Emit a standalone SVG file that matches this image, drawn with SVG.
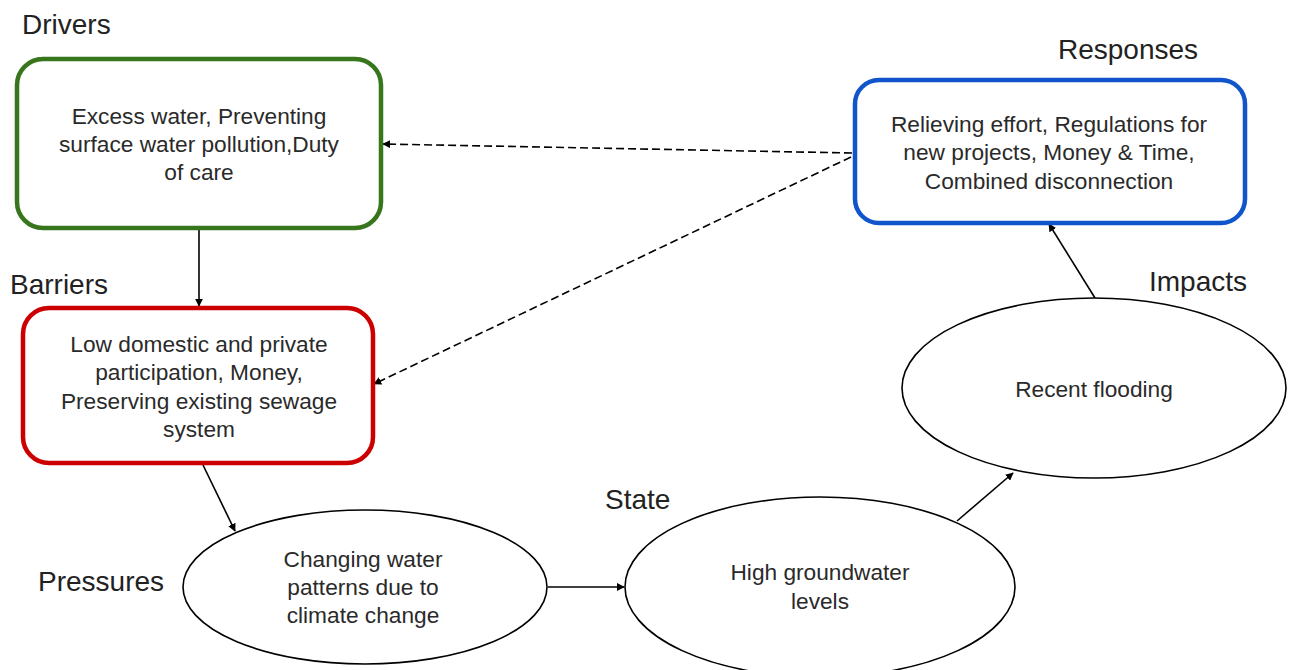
<svg xmlns="http://www.w3.org/2000/svg" width="1290" height="670" viewBox="0 0 1290 670">
  <style>
    .heading { font-family: "Liberation Sans", Arial, sans-serif; font-size: 28px; fill: #222; }
    .body { font-family: "Liberation Sans", Arial, sans-serif; font-size: 22.7px; fill: #2a2a2a; text-anchor: middle; }
    .box { fill: #fff; stroke-width: 4.5; }
    .oval { fill: #fff; stroke: #000; stroke-width: 1.6; }
    .link { fill: none; stroke: #000; stroke-width: 1.6; }
    .dashed { fill: none; stroke: #000; stroke-width: 1.6; stroke-dasharray: 8 4; }
  </style>
  <defs>
    <marker id="arrow" viewBox="0 0 10 10" refX="9" refY="5" markerWidth="8" markerHeight="8" markerUnits="userSpaceOnUse" orient="auto">
      <path d="M0,0 L10,5 L0,10 z" fill="#000"/>
    </marker>
  </defs>

  <rect width="1290" height="670" fill="#fff"/>

  <!-- connectors -->
  <g id="connectors">
    <line class="link" x1="199" y1="230" x2="199" y2="306" marker-end="url(#arrow)"/>
    <line class="link" x1="203" y1="465" x2="235" y2="531" marker-end="url(#arrow)"/>
    <line class="link" x1="548" y1="587" x2="624" y2="587" marker-end="url(#arrow)"/>
    <line class="link" x1="957" y1="521" x2="1013" y2="473" marker-end="url(#arrow)"/>
    <line class="link" x1="1095" y1="298" x2="1049" y2="224" marker-end="url(#arrow)"/>
    <line class="dashed" x1="852" y1="153" x2="383" y2="144" marker-end="url(#arrow)"/>
    <line class="dashed" x1="851" y1="157" x2="374" y2="384" marker-end="url(#arrow)"/>
  </g>

  <!-- Drivers -->
  <g id="drivers">
    <text class="heading" x="22" y="34">Drivers</text>
    <rect class="box" x="17" y="59" width="364" height="169" rx="26" stroke="#38761d"/>
    <text class="body" x="199" y="124">Excess water, Preventing</text>
    <text class="body" x="199" y="152">surface water pollution,Duty</text>
    <text class="body" x="199" y="180">of care</text>
  </g>

  <!-- Responses -->
  <g id="responses">
    <text class="heading" x="1058" y="59">Responses</text>
    <rect class="box" x="855" y="80" width="390" height="143" rx="24" stroke="#1155cc"/>
    <text class="body" x="1049" y="132">Relieving effort, Regulations for</text>
    <text class="body" x="1049" y="160">new projects, Money &amp; Time,</text>
    <text class="body" x="1049" y="189">Combined disconnection</text>
  </g>

  <!-- Barriers -->
  <g id="barriers">
    <text class="heading" x="10" y="294">Barriers</text>
    <rect class="box" x="23" y="308" width="350" height="155" rx="26" stroke="#cc0000"/>
    <text class="body" x="199" y="352">Low domestic and private</text>
    <text class="body" x="199" y="380">participation, Money,</text>
    <text class="body" x="199" y="409">Preserving existing sewage</text>
    <text class="body" x="199" y="437">system</text>
  </g>

  <!-- Pressures -->
  <g id="pressures">
    <text class="heading" x="38" y="591">Pressures</text>
    <ellipse class="oval" cx="365" cy="587" rx="182" ry="77"/>
    <text class="body" x="363" y="567">Changing water</text>
    <text class="body" x="363" y="595">patterns due to</text>
    <text class="body" x="363" y="623">climate change</text>
  </g>

  <!-- State -->
  <g id="state">
    <text class="heading" x="605" y="509">State</text>
    <ellipse class="oval" cx="820" cy="587" rx="195" ry="90"/>
    <text class="body" x="820" y="580">High groundwater</text>
    <text class="body" x="820" y="609">levels</text>
  </g>

  <!-- Impacts -->
  <g id="impacts">
    <text class="heading" x="1149" y="291">Impacts</text>
    <ellipse class="oval" cx="1094" cy="388" rx="192" ry="90"/>
    <text class="body" x="1094" y="397">Recent flooding</text>
  </g>
</svg>
